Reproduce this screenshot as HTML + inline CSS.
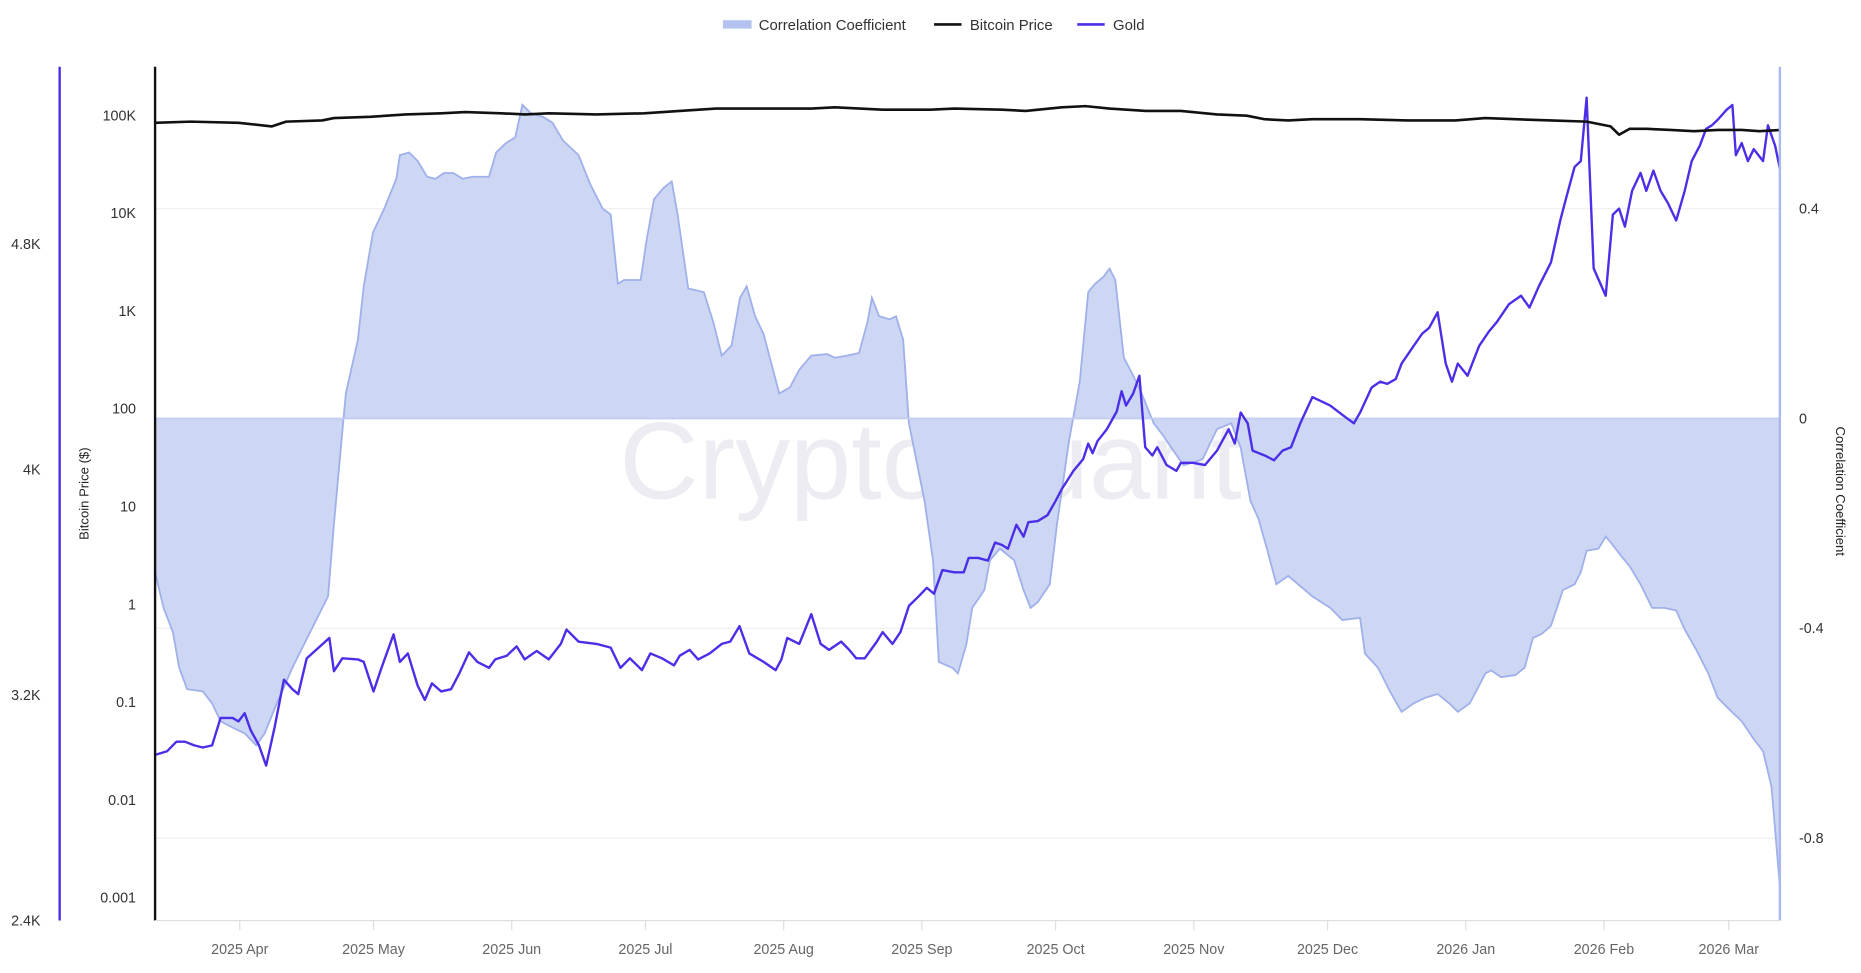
<!DOCTYPE html>
<html><head><meta charset="utf-8"><style>
html,body{margin:0;padding:0;background:#fff;}
svg{display:block;font-family:"Liberation Sans",sans-serif;}
</style></head><body>
<svg id="chart" width="1861" height="973" viewBox="0 0 1560 816" preserveAspectRatio="none" xmlns="http://www.w3.org/2000/svg">
<g>
  <g><rect x="606" y="17" width="24" height="7" fill="#b4c2ef"/><text x="636" y="25" font-size="12.5" fill="#333">Correlation Coefficient</text></g>
  <g><line x1="783" y1="20.5" x2="806" y2="20.5" stroke="#111" stroke-width="2.2"/><text x="813" y="25" font-size="12.5" fill="#333">Bitcoin Price</text></g>
  <g><line x1="903" y1="20.5" x2="926" y2="20.5" stroke="#4b2ee8" stroke-width="2.2"/><text x="933" y="25" font-size="12.5" fill="#333">Gold</text></g>
</g>
<text x="780" y="418" text-anchor="middle" font-size="92" fill="#ececf2">CryptoQuant</text>
<g id="grid"></g>
<g id="series"></g>
<g id="axes"></g>
</svg>
<script>
const monthLabels=["2025 Apr","2025 May","2025 Jun","2025 Jul","2025 Aug","2025 Sep","2025 Oct","2025 Nov","2025 Dec","2026 Jan","2026 Feb","2026 Mar"];
const monthDays=[19,49,80,110,141,172,202,233,263,294,325,353];
const btcTickLabels=["100K","10K","1K","100","10","1","0.1","0.01","0.001"];
const btcTickValues=[100,10,1,0.1,0.01,0.001,0.0001,0.00001,0.000001];
const goldTickLabels=["4.8K","4K","3.2K","2.4K"];
const goldTickValues=[4800,4000,3200,2400];
const corrTickLabels=["0.4","0","-0.4","-0.8"];
const corrTickValues=[0.4,0,-0.4,-0.8];
const corrSeries=[[0,-.293],[1.9,-.361],[4,-.407],[5.4,-.475],[7.2,-.516],[10.7,-.52],[12.8,-.543],[14.7,-.577],[17.4,-.589],[20.1,-.6],[22.7,-.623],[24.6,-.6],[27.3,-.543],[30.8,-.475],[34.8,-.407],[38.8,-.339],[40.1,-.202],[42.8,.048],[45.5,.15],[46.8,.252],[48.9,.355],[51.4,.4],[54.1,.457],[54.9,.502],[57,.507],[58.9,.491],[61,.461],[62.9,.457],[64.8,.468],[66.9,.468],[69,.457],[71.2,.461],[74.9,.461],[76.5,.507],[78.7,.525],[80.8,.536],[82.4,.598],[84.3,.582],[87,.575],[89.1,.564],[91.5,.53],[95,.502],[97.7,.445],[100.4,.4],[102.2,.389],[103.8,.257],[105.2,.264],[108.9,.264],[110.3,.343],[111.9,.418],[114,.439],[115.9,.452],[117.2,.389],[119.6,.248],[123.1,.241],[125.2,.184],[127.1,.12],[129.3,.139],[131.2,.23],[132.7,.252],[134.6,.195],[136.5,.161],[140,.048],[142.4,.059],[144.5,.093],[147.2,.12],[150.7,.123],[152.5,.116],[155.2,.12],[157.9,.125],[159.8,.184],[160.8,.23],[162.4,.195],[164.8,.189],[166.2,.195],[167.8,.15],[169.1,-.009],[172.6,-.157],[174.5,-.27],[175.8,-.464],[178.8,-.475],[180.1,-.486],[182,-.43],[183.3,-.361],[186,-.327],[187.3,-.27],[189.5,-.248],[192.7,-.27],[194.8,-.327],[196.4,-.361],[198,-.35],[200.7,-.316],[202.3,-.202],[205,-.043],[207.4,.07],[209.3,.241],[210.9,.257],[212.7,.27],[214.1,.286],[215.4,.264],[217.3,.116],[219.4,.082],[221.3,.048],[224,-.009],[226.1,-.032],[228.8,-.066],[230.7,-.089],[232.8,-.084],[235,-.077],[238.2,-.02],[241.4,-.009],[243.5,-.055],[245.7,-.157],[247.5,-.191],[249.4,-.248],[251.5,-.316],[254.2,-.3],[259.6,-.339],[263.6,-.361],[266.3,-.384],[270.3,-.38],[271.4,-.448],[274.3,-.475],[277,-.52],[279.6,-.559],[282.3,-.543],[285,-.532],[287.7,-.525],[290.3,-.543],[292.2,-.559],[294.9,-.543],[297,-.509],[298.4,-.486],[299.7,-.48],[301.9,-.493],[305.1,-.489],[307.2,-.475],[309.1,-.418],[311,-.411],[313.1,-.395],[315.8,-.327],[318.4,-.316],[319.8,-.293],[321.1,-.252],[323.8,-.248],[325.4,-.225],[326.5,-.236],[328.6,-.259],[330.8,-.282],[333.2,-.316],[335.8,-.361],[338.5,-.361],[341.2,-.366],[343.1,-.402],[345.7,-.441],[348.4,-.486],[350.5,-.532],[353.2,-.555],[355.9,-.577],[358.6,-.611],[360.7,-.634],[362.6,-.702],[364.5,-.895]];
const btcSeries=[[0,84.5],[8,86.9],[18.7,84.5],[26.2,77.7],[29.4,86.9],[37.5,89.4],[40.1,94.5],[48.2,97.2],[56.2,102.9],[64.2,105.8],[69.6,108.8],[77.6,105.8],[83,102.9],[88.3,105.8],[99,102.9],[109.7,105.8],[117.7,111.9],[125.8,118.3],[136.5,118.3],[147.2,118.3],[152.5,121.7],[163.2,115.1],[173.9,115.1],[179.3,118.3],[190,115.1],[195.3,111.9],[203.4,121.7],[208.7,125.2],[214.1,118.3],[222.1,111.9],[230.1,111.9],[238.2,102.9],[244.9,100],[248.9,91.9],[254.2,89.4],[259.6,91.9],[270.3,91.9],[281,89.4],[291.7,89.4],[298.4,94.5],[305.1,91.9],[313.1,89.4],[321.1,86.9],[326.5,77.7],[328.4,63.8],[330.8,73.4],[334.5,73.4],[339.9,71.4],[345.2,69.4],[350.6,71.4],[355.9,71.4],[359.9,69.4],[364.5,71.4]];
const goldSeries=[[0,2988],[2.7,3001],[4.8,3035],[6.7,3035],[8.8,3022],[10.7,3014],[12.8,3022],[14.7,3119],[17.4,3119],[18.7,3107],[20.1,3136],[21.4,3077],[23.3,3022],[24.9,2950],[26.8,3086],[28.9,3255],[30.8,3221],[32.1,3204],[34,3331],[36.7,3369],[39.1,3403],[40.1,3285],[42,3331],[45.5,3327],[46.8,3318],[49,3213],[50.8,3297],[53.5,3416],[54.9,3318],[56.7,3348],[58.9,3234],[60.5,3183],[62.1,3242],[64.2,3213],[66.4,3221],[68.2,3276],[70.4,3352],[72.3,3318],[74.9,3297],[76.3,3327],[78.9,3340],[81.1,3373],[82.9,3327],[85.6,3357],[88.3,3327],[91,3382],[92.3,3433],[95,3390],[99,3382],[102.2,3369],[104.4,3297],[106.5,3331],[109.2,3289],[111.1,3348],[113.7,3331],[116.4,3306],[117.7,3340],[119.9,3361],[121.8,3327],[124.4,3348],[127.1,3382],[129,3390],[131.1,3445],[133.3,3348],[136.5,3318],[139.2,3289],[140.5,3327],[141.8,3403],[144.5,3382],[147.2,3488],[149.3,3382],[151.2,3361],[153.9,3390],[155.7,3361],[157.3,3331],[159.2,3331],[161.9,3390],[163.2,3424],[165.4,3382],[167.2,3424],[169.1,3517],[171.3,3551],[173.1,3581],[174.7,3560],[176.6,3644],[179.3,3636],[181.4,3636],[182.5,3687],[184.6,3687],[186.8,3678],[188.4,3742],[190,3733],[191.3,3720],[193.2,3805],[194.8,3763],[195.9,3814],[198,3818],[200.2,3839],[202,3890],[203.4,3932],[206,3996],[208.2,4038],[209.3,4093],[210.3,4059],[211.4,4102],[213.5,4144],[215.7,4207],[216.8,4279],[217.8,4228],[219.4,4271],[220.8,4334],[222.1,4080],[223.7,4051],[224.8,4080],[226.9,4017],[229.1,3996],[230.1,4025],[232.8,4025],[235.5,4017],[238.2,4068],[240.8,4144],[242.2,4093],[243.5,4203],[245.1,4165],[246.2,4068],[248.9,4051],[251,4034],[252.9,4068],[254.8,4080],[256.9,4165],[259.6,4258],[263.6,4228],[266.3,4195],[268.9,4165],[270.3,4203],[272.9,4292],[274.8,4313],[276.4,4305],[278.3,4322],[279.6,4377],[282.3,4440],[284.2,4483],[285.8,4504],[287.7,4559],[289.5,4377],[290.9,4313],[292.2,4377],[294.4,4334],[297,4440],[299.2,4491],[301,4525],[303.7,4588],[306.4,4618],[308.3,4576],[310.4,4652],[313.1,4736],[315.2,4885],[316.6,4969],[318.4,5075],[319.8,5096],[321.1,5321],[322.7,4715],[325.4,4618],[327,4906],[328.4,4927],[329.7,4863],[331.3,4990],[333.2,5054],[334.5,4990],[336.1,5062],[337.7,4990],[339.3,4948],[341.2,4885],[343.1,4990],[344.7,5096],[346.5,5151],[347.9,5210],[349.2,5223],[350.6,5244],[352.5,5278],[353.8,5295],[354.6,5117],[355.9,5160],[357.3,5096],[358.6,5138],[360.7,5096],[361.8,5223],[363.4,5151],[364.5,5067]];

const NS="http://www.w3.org/2000/svg";
const L=130,R=1492,T=56,B=772;
const xS=d=>L+d*3.737;
const btcY=vK=>97-Math.log10(vK/100)*82;
const goldY=v=>B-(v-2400)*(189/800);
const corrY=c=>351-c*440;
function mk(tag,attrs,parent,text){const e=document.createElementNS(NS,tag);for(const k in attrs)e.setAttribute(k,attrs[k]);if(text!==undefined)e.textContent=text;parent.appendChild(e);return e;}
const grid=document.getElementById('grid'),series=document.getElementById('series'),axes=document.getElementById('axes');

corrTickValues.forEach((v,i)=>{
  if(v!==0){const g=mk('line',{x1:L,x2:R,y1:corrY(v),y2:corrY(v),stroke:'#efefef','stroke-width':1},grid);
  
  }
  const t=mk('text',{x:1508,y:corrY(v)+4,'font-size':12,fill:'#333'},axes,corrTickLabels[i]);
  
  
});
// correlation area
let d='M'+xS(corrSeries[0][0])+','+corrY(0);
corrSeries.forEach(p=>{d+=' L'+xS(p[0]).toFixed(1)+','+corrY(p[1]).toFixed(1);});
d+=' L'+xS(corrSeries[corrSeries.length-1][0])+','+corrY(0)+' Z';
const area=mk('path',{d:d,fill:'#cdd6f3',stroke:'none'},series);


const cl=mk('polyline',{points:corrSeries.map(p=>xS(p[0]).toFixed(1)+','+corrY(p[1]).toFixed(1)).join(' '),fill:'none',stroke:'#9fb0ea','stroke-width':1.5},series);


const zl=mk('line',{x1:L,x2:R,y1:corrY(0),y2:corrY(0),stroke:'#c3cdf0','stroke-width':1.5},series);


const gl=mk('polyline',{points:goldSeries.map(p=>xS(p[0]).toFixed(1)+','+goldY(p[1]).toFixed(1)).join(' '),fill:'none',stroke:'#4b2ee8','stroke-width':2,'stroke-linejoin':'round'},series);


const bl=mk('polyline',{points:btcSeries.map(p=>xS(p[0]).toFixed(1)+','+btcY(p[1]).toFixed(1)).join(' '),fill:'none',stroke:'#111','stroke-width':2.2,'stroke-linejoin':'round'},series);



// axes lines
const ga=mk('line',{x1:50,x2:50,y1:T,y2:B,stroke:'#4b2ee8','stroke-width':2},axes);


const ba=mk('line',{x1:L,x2:L,y1:T,y2:B,stroke:'#111','stroke-width':2},axes);


const ca=mk('line',{x1:R,x2:R,y1:T,y2:B,stroke:'#a9b8ee','stroke-width':2},axes);


const xa=mk('line',{x1:L,x2:R,y1:B,y2:B,stroke:'#ddd','stroke-width':1},axes);


btcTickValues.forEach((v,i)=>{
  const t=mk('text',{x:114,y:btcY(v)+4,'text-anchor':'end','font-size':12,fill:'#333'},axes,btcTickLabels[i]);
  
  
});
goldTickValues.forEach((v,i)=>{
  const t=mk('text',{x:34,y:goldY(v)+4,'text-anchor':'end','font-size':12,fill:'#333'},axes,goldTickLabels[i]);
  
  
});
monthDays.forEach((dd,i)=>{
  const tk=mk('line',{x1:xS(dd),x2:xS(dd),y1:B,y2:B+8,stroke:'#ddd'},axes);
  
  
  const t=mk('text',{x:xS(dd),y:B+28,'text-anchor':'middle','font-size':12,fill:'#666'},axes,monthLabels[i]);
  
  
});
const yt=mk('text',{x:0,y:0,transform:'translate(74,414) rotate(-90)','text-anchor':'middle','font-size':11,fill:'#222'},axes,'Bitcoin Price ($)');


const rt=mk('text',{x:0,y:0,transform:'translate(1539,412) rotate(90)','text-anchor':'middle','font-size':11,fill:'#222'},axes,'Correlation Coefficient');


</script>
</body></html>
